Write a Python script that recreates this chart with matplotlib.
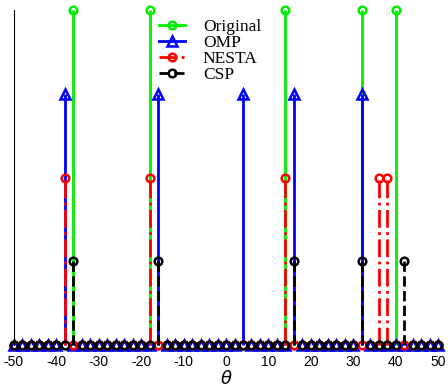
import matplotlib.pyplot as plt
import numpy as np
from matplotlib.lines import Line2D
from matplotlib.legend_handler import HandlerLine2D

# angle grid (degrees)
theta = np.arange(-50, 51, 2)

# nonzero positions / heights of each estimate
orig_pos = [-36, -18, 14, 32, 40]
orig_val = [1.0, 1.0, 1.0, 1.0, 1.0]
omp_pos = [-38, -16, 4, 16, 32]
omp_val = [0.75, 0.75, 0.75, 0.75, 0.75]
nesta_pos = [-38, -18, 14, 36, 38]
nesta_val = [0.5, 0.5, 0.5, 0.5, 0.5]
csp_pos = [-36, -16, 16, 32, 42]
csp_val = [0.25, 0.25, 0.25, 0.25, 0.25]

def spectrum(pos, val):
    s = np.zeros(len(theta))
    for p, v in zip(pos, val):
        s[np.where(theta == p)[0]] = v
    return s

# legend entry: line with the marker at its right end
class EndMarkerHandler(HandlerLine2D):
    def get_xdata(self, legend, xdescent, ydescent, width, height, fontsize):
        xdata = np.array([-xdescent, -xdescent + width])
        return xdata, np.array([-xdescent + width])

plt.rcParams['font.family'] = 'Liberation Sans'
plt.rcParams['axes.unicode_minus'] = False
fig = plt.figure(figsize=(4.48, 3.88), dpi=100)
ax = fig.add_axes([0.031, 0.111, 0.947, 0.863])

series = [
    (spectrum(orig_pos, orig_val), '#00ee00', '-', 'o', 'Original'),
    (spectrum(omp_pos, omp_val), '#0000ff', '-', '^', 'OMP'),
    (spectrum(nesta_pos, nesta_val), '#ff0000', '-.', 'o', 'NESTA'),
    (spectrum(csp_pos, csp_val), '#000000', '--', 'o', 'CSP'),
]

handles = []
for s, c, ls, mk, lab in series:
    ms = 6.5 if mk == '^' else 5.5
    ml, sl, bl = ax.stem(theta, s)
    plt.setp(sl, color=c, linestyle=ls, linewidth=2, clip_on=False)
    plt.setp(ml, marker=mk, markersize=ms, markerfacecolor='none',
             markeredgecolor=c, markeredgewidth=1.8, clip_on=False)
    bl.set_visible(False)
    handles.append(Line2D([0, 1], [0, 0], color=c, linestyle=ls, linewidth=2,
                          marker=mk, markersize=ms, markerfacecolor='none',
                          markeredgecolor=c, markeredgewidth=1.8))

ax.set_xlim(-50, 50)
ax.set_ylim(0, 1.0)
ax.set_xticks(np.arange(-50, 51, 10))
ax.set_yticks([])
ax.tick_params(axis='x', length=0, labelsize=10, pad=7)
for sp in ['top', 'right', 'bottom']:
    ax.spines[sp].set_visible(False)
ax.spines['left'].set_linewidth(0.8)
ax.set_xlabel(r'$\theta$', fontsize=13, labelpad=1)

leg = ax.legend(handles, ['Original', 'OMP', 'NESTA', 'CSP'],
                handler_map={Line2D: EndMarkerHandler()},
                loc='upper left', bbox_to_anchor=(0.343, 0.975), frameon=False,
                prop={'family': 'Liberation Serif', 'size': 12.5},
                labelspacing=0.0, handlelength=1.5, handletextpad=1.0,
                borderpad=0, borderaxespad=0)

fig.savefig('out.png', dpi=100)
